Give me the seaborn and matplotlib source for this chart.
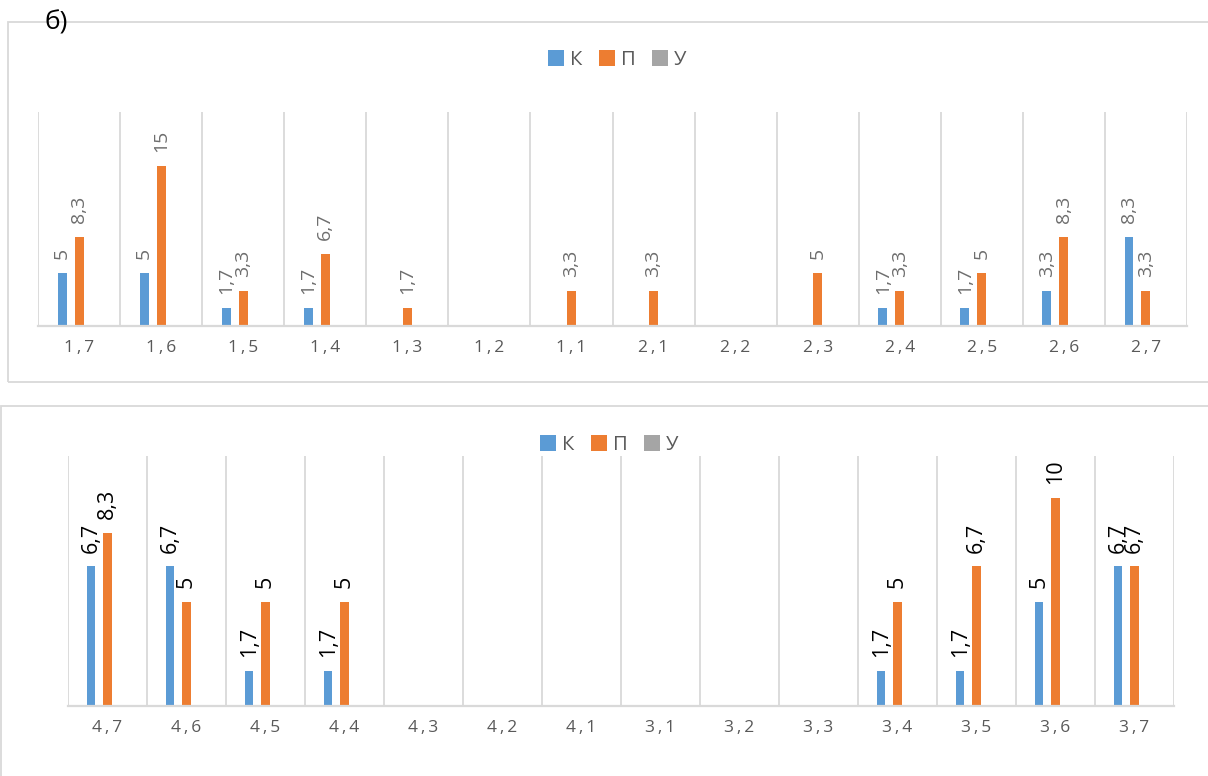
import matplotlib
matplotlib.use("Agg")
import matplotlib.pyplot as plt
from matplotlib.patches import Rectangle
import pandas as pd
import seaborn as sns

# ---- data ----------------------------------------------------------------
series = ["К", "П", "У"]
series_colors = ["#5B9BD5", "#ED7D31", "#A5A5A5"]

top_categories = ["1,7", "1,6", "1,5", "1,4", "1,3", "1,2", "1,1",
                  "2,1", "2,2", "2,3", "2,4", "2,5", "2,6", "2,7"]
top_k = [5, 5, 1.7, 1.7, 0, 0, 0, 0, 0, 0, 1.7, 1.7, 3.3, 8.3]
top_p = [8.3, 15, 3.3, 6.7, 1.7, 0, 3.3, 3.3, 0, 5, 3.3, 5, 8.3, 3.3]
top_u = [0, 0, 0, 0, 0, 0, 0, 0, 0, 0, 0, 0, 0, 0]

bottom_categories = ["4,7", "4,6", "4,5", "4,4", "4,3", "4,2", "4,1",
                     "3,1", "3,2", "3,3", "3,4", "3,5", "3,6", "3,7"]
bottom_k = [6.7, 6.7, 1.7, 1.7, 0, 0, 0, 0, 0, 0, 1.7, 1.7, 5, 6.7]
bottom_p = [8.3, 5, 5, 5, 0, 0, 0, 0, 0, 0, 5, 6.7, 10, 6.7]
bottom_u = [0, 0, 0, 0, 0, 0, 0, 0, 0, 0, 0, 0, 0, 0]

# ---- style ---------------------------------------------------------------
sns.set_style("white")
plt.rcParams["font.family"] = ["Open Sans", "DejaVu Sans"]

W, H = 1208, 776
fig = plt.figure(figsize=(W / 100, H / 100), dpi=100)
fig.patch.set_facecolor("white")

GRID = "#D9D9D9"
TEXT_GRAY = "#595959"


def px_box(left, top, right, bottom):
    return [left / W, 1 - bottom / H, (right - left) / W, (bottom - top) / H]


def long_frame(categories, k, p, u):
    rows = []
    for name, vals in zip(series, (k, p, u)):
        for c, v in zip(categories, vals):
            rows.append({"cat": c, "series": name, "value": v})
    return pd.DataFrame(rows)


def fmt(v):
    return ("%g" % v).replace(".", ",")


def draw_panel(rect, categories, k, p, u, ymax, label_color, label_size,
               legend_xy):
    ax = fig.add_axes(px_box(*rect))
    df = long_frame(categories, k, p, u)
    sns.barplot(data=df, x="cat", y="value", hue="series",
                order=categories, hue_order=series, palette=series_colors,
                saturation=1, width=0.62, gap=0.47, linewidth=0,
                errorbar=None, ax=ax)
    ax.set_ylim(0, ymax)
    ax.set_xlim(-0.5, len(categories) - 0.5)
    for i in range(len(categories) + 1):
        ax.axvline(i - 0.5, color=GRID, lw=1.3, zorder=0)
    for s in ("left", "right", "top"):
        ax.spines[s].set_visible(False)
    ax.spines["bottom"].set_color(GRID)
    ax.spines["bottom"].set_linewidth(1.6)
    ax.set_yticks([])
    ax.set_xlabel("")
    ax.set_ylabel("")
    ax.set_xticks(range(len(categories)))
    ax.set_xticklabels(["\u2009".join(c) for c in categories])
    ax.tick_params(axis="x", length=0, pad=10, labelsize=12.5,
                   labelcolor=TEXT_GRAY)

    for container, vals in zip(ax.containers, (k, p, u)):
        ax.bar_label(container, labels=[fmt(v) if v > 0 else "" for v in vals],
                     rotation=90, padding=10, color=label_color,
                     fontsize=label_size)

    sns.move_legend(ax, "center", bbox_to_anchor=legend_xy,
                    bbox_transform=fig.transFigure, ncol=3, frameon=False,
                    title=None, fontsize=14.5, handlelength=0.8,
                    handleheight=0.8, handletextpad=0.3,
                    columnspacing=0.8, labelcolor=TEXT_GRAY)
    return ax


# panel frames
fig.patches.append(Rectangle((8 / W, 1 - 382 / H), 1205 / W, 360 / H,
                             transform=fig.transFigure, fill=False,
                             edgecolor=GRID, lw=1.3))
fig.patches.append(Rectangle((0.6 / W, 1 - 785 / H), 1215 / W, 379 / H,
                             transform=fig.transFigure, fill=False,
                             edgecolor=GRID, lw=1.3))

draw_panel((38, 112, 1187, 326), top_categories, top_k, top_p, top_u,
           20, "#6E6E6E", 14, (617 / W, 1 - 60 / H))
draw_panel((68, 456, 1174, 706), bottom_categories, bottom_k, bottom_p,
           bottom_u, 12, "black", 15.5, (609 / W, 1 - 445 / H))

fig.text(44 / W, 1 - 23 / H, "б)", fontsize=19, color="black",
         ha="left", va="center")

fig.savefig("out.png", dpi=100, facecolor="white")
